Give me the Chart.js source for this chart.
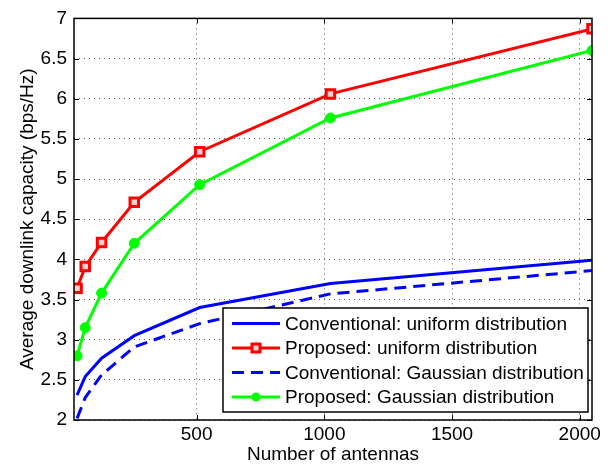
<!DOCTYPE html>
<html>
<head>
<meta charset="utf-8">
<script src="https://cdn.jsdelivr.net/npm/chart.js@4/dist/chart.umd.min.js"></script>
<style>
html,body{margin:0;padding:0;background:#fff;}
#wrap{width:613px;height:468px;position:relative;}
</style>
</head>
<body>
<div id="wrap"><canvas id="c" width="613" height="468"></canvas></div>
<script>
const antennas = [32, 64, 128, 256, 512, 1024, 2048];
const convUniform = [2.31, 2.54, 2.77, 3.05, 3.40, 3.70, 3.99];
const propUniform = [3.64, 3.91, 4.21, 4.71, 5.34, 6.06, 6.87];
const convGauss = [2.02, 2.28, 2.56, 2.91, 3.20, 3.57, 3.86];
const propGauss = [2.80, 3.15, 3.58, 4.20, 4.93, 5.76, 6.60];
const xTicks = [500, 1000, 1500, 2000];
const yTicks = [2, 2.5, 3, 3.5, 4, 4.5, 5, 5.5, 6, 6.5, 7];
const seriesNames = [
  'Conventional: uniform distribution',
  'Proposed: uniform distribution',
  'Conventional: Gaussian distribution',
  'Proposed: Gaussian distribution'
];

const FONT = 'Liberation Sans, Arial, sans-serif';
const pts = arr => antennas.map((x, i) => ({x: x, y: arr[i]}));

const boxPlugin = {
  id: 'boxPlugin',
  afterDraw(chart) {
    const {ctx, chartArea: a, scales} = chart;
    ctx.save();
    ctx.strokeStyle = '#000';
    ctx.lineWidth = 1.5;
    ctx.setLineDash([]);
    ctx.strokeRect(a.left, a.top, a.right - a.left, a.bottom - a.top);
    const tl = 5;
    ctx.lineWidth = 1;
    ctx.beginPath();
    xTicks.forEach(v => {
      const x = Math.round(scales.x.getPixelForValue(v)) + 0.5;
      ctx.moveTo(x, a.bottom); ctx.lineTo(x, a.bottom - tl);
      ctx.moveTo(x, a.top); ctx.lineTo(x, a.top + tl);
    });
    yTicks.forEach(v => {
      const y = Math.round(scales.y.getPixelForValue(v)) + 0.5;
      ctx.moveTo(a.left, y); ctx.lineTo(a.left + tl, y);
      ctx.moveTo(a.right, y); ctx.lineTo(a.right - tl, y);
    });
    ctx.stroke();

    // legend
    const lx = 223, ly = 308, lw = 365, lh = 104;
    ctx.fillStyle = '#fff';
    ctx.fillRect(lx, ly, lw, lh);
    ctx.lineWidth = 1.5;
    ctx.strokeStyle = '#000';
    ctx.strokeRect(lx, ly, lw, lh);
    ctx.font = '19px ' + FONT;
    ctx.textBaseline = 'middle';
    ctx.textAlign = 'left';
    chart.data.datasets.forEach((ds, i) => {
      const y = ly + 15.5 + i * 24.5;
      ctx.save();
      ctx.strokeStyle = ds.borderColor;
      ctx.lineWidth = 3;
      ctx.setLineDash(ds.borderDash || []);
      ctx.beginPath();
      ctx.moveTo(232, y); ctx.lineTo(280, y);
      ctx.stroke();
      ctx.setLineDash([]);
      if (ds.pointRadius > 0) {
        ctx.fillStyle = ds.pointBackgroundColor;
        ctx.strokeStyle = ds.pointBorderColor;
        ctx.lineWidth = ds.pointBorderWidth;
        if (ds.pointStyle === 'rect') {
          ctx.fillRect(252, y - 4, 8, 8);
          ctx.strokeRect(252, y - 4, 8, 8);
        } else {
          ctx.beginPath();
          ctx.arc(256, y, 4.5, 0, Math.PI * 2);
          ctx.fill();
        }
      }
      ctx.restore();
      ctx.fillStyle = '#000';
      ctx.fillText(seriesNames[i], 285, y + 1);
    });
    ctx.restore();
  }
};

new Chart(document.getElementById('c'), {
  type: 'line',
  data: {
    datasets: [
      {label: seriesNames[0], data: pts(convUniform), borderColor: '#0000ff', borderWidth: 3,
       pointRadius: 0, pointBackgroundColor: '#0000ff', pointBorderColor: '#0000ff', pointBorderWidth: 0, fill: false, tension: 0},
      {label: seriesNames[1], data: pts(propUniform), borderColor: '#ff0000', borderWidth: 3,
       pointStyle: 'rect', pointRadius: 6, pointBackgroundColor: '#ffd0d0', pointBorderColor: '#ff0000', pointBorderWidth: 3, fill: false, tension: 0},
      {label: seriesNames[2], data: pts(convGauss), borderColor: '#0000ff', borderWidth: 3, borderDash: [12, 7],
       pointRadius: 0, pointBackgroundColor: '#0000ff', pointBorderColor: '#0000ff', pointBorderWidth: 0, fill: false, tension: 0},
      {label: seriesNames[3], data: pts(propGauss), borderColor: '#00ff00', borderWidth: 3,
       pointStyle: 'circle', pointRadius: 5, pointBackgroundColor: '#00ff00', pointBorderColor: '#00ff00', pointBorderWidth: 1, fill: false, tension: 0}
    ]
  },
  options: {
    responsive: false,
    animation: false,
    layout: {padding: {top: 11, right: 21, left: 0, bottom: 0}},
    plugins: {legend: {display: false}, tooltip: {enabled: false}},
    scales: {
      x: {
        type: 'linear', min: 20, max: 2048,
        afterBuildTicks: s => { s.ticks = xTicks.map(v => ({value: v})); },
        afterFit: s => { s.height = 48; },
        ticks: {color: '#000', font: {family: FONT, size: 19}, padding: 3, maxRotation: 0, callback: v => String(v)},
        grid: {color: '#555', lineWidth: 1, drawTicks: false},
        border: {display: false, dash: [1, 4]},
        title: {display: true, text: 'Number of antennas', color: '#000', font: {family: FONT, size: 19}, padding: {top: 0, bottom: 2}}
      },
      y: {
        min: 2, max: 7,
        afterBuildTicks: s => { s.ticks = yTicks.map(v => ({value: v})); },
        afterFit: s => { s.width = 74; },
        ticks: {color: '#000', font: {family: FONT, size: 19}, padding: 7, callback: v => String(v)},
        grid: {color: '#555', lineWidth: 1, drawTicks: false},
        border: {display: false, dash: [1, 4]},
        title: {display: true, text: 'Average downlink capacity (bps/Hz)', color: '#000', font: {family: FONT, size: 19}, padding: {top: 16, bottom: 0}}
      }
    }
  },
  plugins: [boxPlugin]
});
</script>
</body>
</html>
